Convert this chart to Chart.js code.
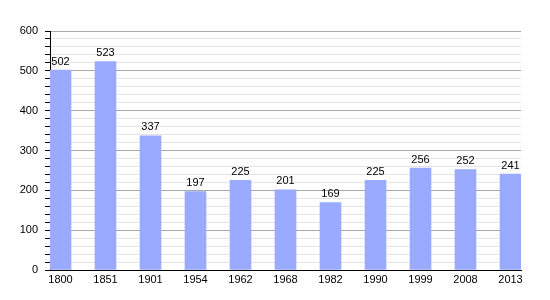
<!DOCTYPE html>
<html>
<head>
<meta charset="utf-8">
<script src="https://cdn.jsdelivr.net/npm/chart.js@4"></script>
<style>
  html, body { margin: 0; padding: 0; background: #fff; }
  #wrap { width: 550px; height: 300px; }
</style>
</head>
<body>
<div id="wrap"><canvas id="chart"></canvas></div>
<script>
// Daten
const years = ['1800', '1851', '1901', '1954', '1962', '1968', '1982', '1990', '1999', '2008', '2013'];
const population = [502, 523, 337, 197, 225, 201, 169, 225, 256, 252, 241];
const yMax = 600;

const FONT = { family: "'Liberation Sans', Arial, sans-serif", size: 11 };

// Werte über den Balken
const valueLabels = {
    id: 'valueLabels',
    afterDatasetsDraw(chart) {
        const ctx = chart.ctx;
        const meta = chart.getDatasetMeta(0);
        ctx.save();
        ctx.font = `${FONT.size}px ${FONT.family}`;
        ctx.fillStyle = '#000';
        ctx.textAlign = 'center';
        ctx.textBaseline = 'bottom';
        meta.data.forEach((bar, i) => {
            ctx.fillText(String(population[i]), bar.x, bar.y - 3);
        });
        ctx.restore();
    }
};

new Chart(document.getElementById('chart'), {
    type: 'bar',
    data: {
        datasets: [{
            data: population.map((v, i) => ({ x: i, y: v })),
            backgroundColor: '#99aaff',
            borderWidth: 0,
            barThickness: 21
        }]
    },
    options: {
        responsive: true,
        maintainAspectRatio: false,
        animation: false,
        layout: { padding: { top: 31, right: 29, left: 0, bottom: 0 } },
        plugins: {
            legend: { display: false },
            tooltip: { enabled: false }
        },
        scales: {
            x: {
                type: 'linear',
                offset: false,
                min: -0.2333,
                max: 10.2333,
                afterBuildTicks: (scale) => { scale.ticks = years.map((_, i) => ({ value: i })); },
                afterFit: (scale) => { scale.height = 30; },
                grid: { display: false, drawTicks: false, offset: false },
                border: { display: true, color: '#000', width: 1 },
                ticks: {
                    color: '#000',
                    font: FONT,
                    padding: 3,
                    autoSkip: false,
                    maxRotation: 0,
                    callback: (v) => years[v] ?? ''
                }
            },
            y: {
                min: 0,
                max: yMax,
                afterFit: (scale) => { scale.width = 50; },
                border: { display: true, color: '#000', width: 1 },
                grid: {
                    color: (c) => (c.tick.value % 100 === 0 ? '#aaaaaa' : '#e4e4e4'),
                    tickColor: '#000',
                    tickLength: 5,
                    lineWidth: 1
                },
                ticks: {
                    stepSize: 20,
                    autoSkip: false,
                    color: '#000',
                    font: FONT,
                    padding: 7,
                    callback: (v) => (v % 100 === 0 ? v : '')
                }
            }
        }
    },
    plugins: [valueLabels]
});
</script>
</body>
</html>
